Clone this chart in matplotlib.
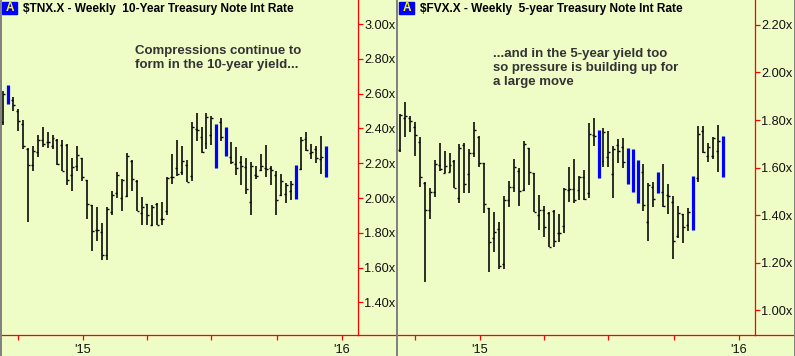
import datetime as dt

import matplotlib
import numpy as np

matplotlib.use("Agg")
import matplotlib.dates as mdates  # noqa: E402
import matplotlib.pyplot as plt  # noqa: E402
from matplotlib.lines import Line2D  # noqa: E402
from matplotlib.patches import Rectangle  # noqa: E402

nan = np.nan

# weekly bars, first week of the chart
first_week = dt.date(2014, 9, 10)

# $TNX.X weekly open / high / low / close (blue bars have no open/close ticks)
tnx_open = [2.437, nan, 2.562, 2.498, 2.427, 2.284, 2.188, 2.265, 2.332, 2.322, 2.297, 2.332,
            2.307, 2.307, 2.134, 2.182, 2.230, 2.105, 1.958, 1.816, 1.803, 1.671, 1.920, 2.029,
            2.000, 2.010, 2.211, 2.096, 1.914, 1.966, 1.847, 1.968, 1.882, 1.928, 2.119, 2.173,
            2.150, 2.188, 2.125, 2.397, 2.349, 2.315, 2.364, nan, 2.435, nan, 2.236, 2.196,
            2.205, 2.177, 1.975, 2.131, 2.159, 2.173, 2.173, 2.131, 2.019, 2.023, 2.039, nan,
            2.169, 2.341, 2.259, 2.282, 2.224, nan]
tnx_high = [2.613, 2.648, 2.581, 2.512, 2.449, 2.288, 2.297, 2.360, 2.406, 2.379, 2.364, 2.339,
            2.335, 2.310, 2.230, 2.297, 2.230, 2.105, 1.962, 1.947, 1.857, 1.947, 2.038, 2.148,
            2.110, 2.257, 2.219, 2.102, 2.006, 1.968, 1.962, 1.972, 1.977, 2.119, 2.253, 2.334,
            2.301, 2.217, 2.435, 2.489, 2.406, 2.489, 2.470, 2.426, 2.460, 2.408, 2.322, 2.293,
            2.240, 2.230, 2.207, 2.182, 2.253, 2.307, 2.182, 2.153, 2.138, 2.087, 2.096, 2.190,
            2.349, 2.380, 2.313, 2.297, 2.355, 2.299]
tnx_low = [2.418, 2.542, 2.498, 2.383, 2.284, 1.862, 2.157, 2.236, 2.291, 2.288, 2.284, 2.192,
           2.153, 2.077, 2.042, 2.153, 2.100, 1.882, 1.694, 1.755, 1.646, 1.646, 1.905, 2.000,
           1.928, 2.004, 2.039, 1.924, 1.847, 1.847, 1.837, 1.843, 1.847, 1.901, 2.081, 2.125,
           2.134, 2.090, 2.100, 2.330, 2.257, 2.284, 2.307, 2.173, 2.330, 2.244, 2.196, 2.134,
           2.077, 2.023, 1.901, 2.111, 2.153, 2.121, 2.077, 1.901, 2.010, 1.972, 1.991, 1.996,
           2.163, 2.269, 2.226, 2.201, 2.138, 2.123]
tnx_close = [2.600, nan, 2.537, 2.445, 2.297, 2.192, 2.268, 2.332, 2.310, 2.322, 2.345, 2.196,
             2.153, 2.105, 2.176, 2.245, 2.119, 1.968, 1.809, 1.816, 1.675, 1.939, 2.015, 2.131,
             2.106, 2.240, 2.110, 1.928, 1.947, 1.905, 1.947, 1.847, 1.882, 2.115, 2.121, 2.140,
             2.211, 2.090, 2.406, 2.389, 2.265, 2.464, 2.460, nan, 2.349, nan, 2.207, 2.173,
             2.186, 2.052, 2.182, 2.129, 2.182, 2.169, 2.163, 1.987, 2.096, 2.077, 2.081, nan,
             2.336, 2.278, 2.265, 2.230, 2.234, nan]
tnx_blue = [1, 43, 45, 59, 65]

# $FVX.X weekly open / high / low / close
fvx_open = [1.674, 1.807, 1.807, 1.770, 1.709, 1.537, 1.422, 1.497, 1.611, 1.579, 1.583, 1.630,
            1.471, 1.695, 1.574, 1.660, 1.730, 1.618, 1.429, 1.303, 1.341, 1.194, 1.464, 1.518,
            1.586, 1.506, 1.681, 1.576, 1.401, 1.422, 1.408, 1.420, 1.324, 1.355, 1.506, 1.511,
            1.506, 1.562, 1.492, 1.737, nan, 1.628, 1.646, 1.572, 1.695, 1.686, nan, nan,
            nan, 1.581, 1.370, 1.518, nan, 1.497, 1.485, 1.455, 1.313, 1.404, 1.359, nan,
            1.555, 1.754, 1.649, 1.651, 1.670, nan]
fvx_high = [1.824, 1.875, 1.819, 1.791, 1.730, 1.539, 1.516, 1.632, 1.702, 1.670, 1.660, 1.632,
            1.698, 1.702, 1.679, 1.793, 1.733, 1.621, 1.429, 1.415, 1.370, 1.481, 1.544, 1.637,
            1.597, 1.712, 1.681, 1.579, 1.485, 1.439, 1.412, 1.422, 1.405, 1.513, 1.604, 1.637,
            1.565, 1.590, 1.786, 1.807, 1.758, 1.765, 1.754, 1.691, 1.719, 1.723, 1.684, 1.679,
            1.632, 1.616, 1.534, 1.539, 1.582, 1.616, 1.532, 1.481, 1.439, 1.405, 1.432, 1.565,
            1.775, 1.777, 1.702, 1.730, 1.779, 1.733]
fvx_low = [1.665, 1.730, 1.749, 1.651, 1.520, 1.121, 1.383, 1.476, 1.588, 1.576, 1.581, 1.513,
           1.453, 1.495, 1.495, 1.646, 1.602, 1.408, 1.163, 1.244, 1.173, 1.173, 1.436, 1.497,
           1.439, 1.504, 1.527, 1.412, 1.338, 1.310, 1.265, 1.268, 1.289, 1.327, 1.455, 1.450,
           1.464, 1.464, 1.471, 1.693, 1.558, 1.604, 1.604, 1.474, 1.618, 1.600, 1.532, 1.499,
           1.453, 1.420, 1.293, 1.436, 1.495, 1.436, 1.405, 1.216, 1.303, 1.282, 1.336, 1.338,
           1.541, 1.663, 1.625, 1.637, 1.583, 1.562]
fvx_close = [1.821, 1.819, 1.798, 1.737, 1.562, 1.422, 1.499, 1.614, 1.593, 1.607, 1.611, 1.513,
             1.681, 1.530, 1.660, 1.758, 1.618, 1.448, 1.289, 1.331, 1.188, 1.464, 1.518, 1.604,
             1.504, 1.698, 1.583, 1.415, 1.422, 1.349, 1.268, 1.293, 1.327, 1.509, 1.511, 1.464,
             1.562, 1.467, 1.740, 1.735, nan, 1.751, 1.665, 1.679, 1.670, 1.623, nan, nan,
             nan, 1.443, 1.527, 1.467, nan, 1.439, 1.481, 1.292, 1.408, 1.349, 1.415, nan,
             1.740, 1.667, 1.686, 1.726, 1.712, nan]
fvx_blue = [40, 46, 47, 48, 52, 59, 65]

tnx_ticks = [1.40, 1.60, 1.80, 2.00, 2.20, 2.40, 2.60, 2.80, 3.00]
fvx_ticks = [1.00, 1.20, 1.40, 1.60, 1.80, 2.00, 2.20]

tnx_title = "$TNX.X - Weekly  10-Year Treasury Note Int Rate"
fvx_title = "$FVX.X - Weekly  5-year Treasury Note Int Rate"
tnx_note = "Compressions continue to\nform in the 10-year yield..."
fvx_note = "...and in the 5-year yield too\nso pressure is building up for\na large move"

W, H = 795, 356
BG = "#EEFCC6"
RED = "#FF0000"
BLUE = "#0000FF"
FONT = "Liberation Sans"


def draw_panel(fig, x0, o, h, l, c, blue, ylim, yticks, title, note, note_xy):
    """Draw one weekly bar chart panel starting at pixel column x0."""
    ax = fig.add_axes([(x0 + 1) / W, 21 / H, 357 / W, 335 / H])
    ax.set_facecolor(BG)
    n = len(h)
    dates = [first_week + dt.timedelta(days=7 * k) for k in range(n)]
    x = mdates.date2num(dates)
    o, h, l, c = map(np.asarray, (o, h, l, c))
    black = np.array([k not in blue for k in range(n)])

    ax.vlines(x[black], l[black], h[black], color="black", lw=1.15)
    ax.hlines(o[black], x[black] - 2.8, x[black], color="black", lw=1.0)
    ax.hlines(c[black], x[black], x[black] + 2.8, color="black", lw=1.0)
    ax.vlines(x[~black], l[~black], h[~black], color=BLUE, lw=2.3)

    ax.set_xlim(mdates.date2num(dt.datetime(2014, 9, 7, 10)),
                mdates.date2num(dt.datetime(2016, 1, 23, 12)))
    ax.set_ylim(*ylim)

    for side in ("left", "top"):
        ax.spines[side].set_visible(False)
    for side in ("right", "bottom"):
        ax.spines[side].set_color(RED)
        ax.spines[side].set_linewidth(0.9)

    ax.yaxis.tick_right()
    ax.set_yticks(yticks)
    ax.set_yticklabels([f"{v:.2f}x" for v in yticks], fontfamily=FONT)
    ax.tick_params(axis="y", colors=RED, labelcolor="#111111", length=3.5, width=0.9,
                   pad=1, labelsize=9.2)

    ax.xaxis.set_major_locator(mdates.YearLocator())
    ax.xaxis.set_minor_locator(mdates.MonthLocator(bymonth=[1, 4, 7, 10]))
    ax.xaxis.set_major_formatter(mdates.DateFormatter("'%y"))
    ax.tick_params(axis="x", which="both", colors=RED, labelcolor="#111111", length=3.5,
                   width=0.9, pad=3, labelsize=9.2)
    for lab in ax.get_xticklabels():
        lab.set_fontfamily(FONT)

    # red base line carries on under the price labels
    fig.add_artist(Line2D([(x0 + 358) / W, (x0 + 397) / W], [21 / H, 21 / H],
                          color=RED, lw=0.9, transform=fig.transFigure))

    # blue "A" badge and title
    fig.add_artist(Rectangle(((x0 + 2) / W, 1 - 14 / H), 15 / W, 12 / H,
                             color=BLUE, transform=fig.transFigure))
    fig.text((x0 + 9.5) / W, 1 - 8 / H, "A", color="#FFFF00", fontsize=8.5,
             fontweight="bold", family=FONT, ha="center", va="center")
    fig.text((x0 + 23) / W, 1 - 9 / H, title, color="black", fontsize=8.55,
             fontweight="bold", family=FONT, va="center")
    fig.text((x0 + note_xy[0]) / W, 1 - note_xy[1] / H, note, color="#333333",
             fontsize=9.5, fontweight="bold", family=FONT, va="top", linespacing=1.2)
    return ax


fig = plt.figure(figsize=(W / 100, H / 100), dpi=100)
fig.patch.set_facecolor(BG)

draw_panel(fig, 0, tnx_open, tnx_high, tnx_low, tnx_close, tnx_blue,
           (1.2126, 3.138), tnx_ticks, tnx_title, tnx_note, (135, 45))
draw_panel(fig, 397, fvx_open, fvx_high, fvx_low, fvx_close, fvx_blue,
           (0.897, 2.3046), fvx_ticks, fvx_title, fvx_note, (96, 48))

# grey frame lines at the panel edges
for px in (0.5, 397, 794.5):
    fig.add_artist(Line2D([px / W, px / W], [0, 1], color="#808080", lw=1.4,
                          transform=fig.transFigure))

fig.savefig("out.png", dpi=100, facecolor=BG)
